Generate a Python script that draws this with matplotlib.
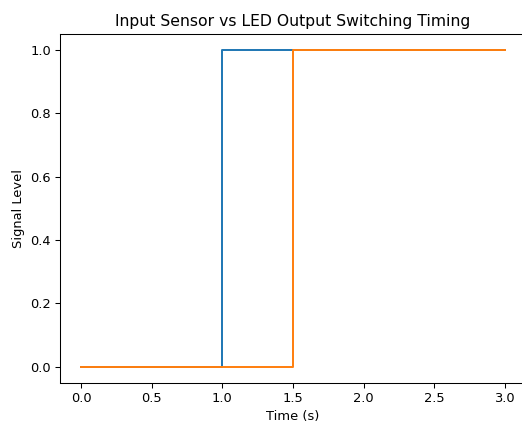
import matplotlib
matplotlib.use("Agg")
import matplotlib.pyplot as plt

time_s = [0.0, 1.0, 1.5, 3.0]
input_sensor = [0, 1, 1, 1]
led_output = [0, 0, 1, 1]

W, H = 522, 421
DPI = 94
fig = plt.figure(figsize=(W / DPI, H / DPI), dpi=DPI)
ax = fig.add_axes([60 / W, (H - 382.5) / H, 466 / W, 348.5 / H])
ax.plot(time_s, input_sensor, drawstyle="steps-post", color="#1f77b4", label="Input Sensor")
ax.plot(time_s, led_output, drawstyle="steps-post", color="#ff7f0e", label="LED Output")
ax.set_title("Input Sensor vs LED Output Switching Timing")
ax.set_xlabel("Time (s)")
ax.set_ylabel("Signal Level")
fig.savefig("out.png", dpi=DPI)
